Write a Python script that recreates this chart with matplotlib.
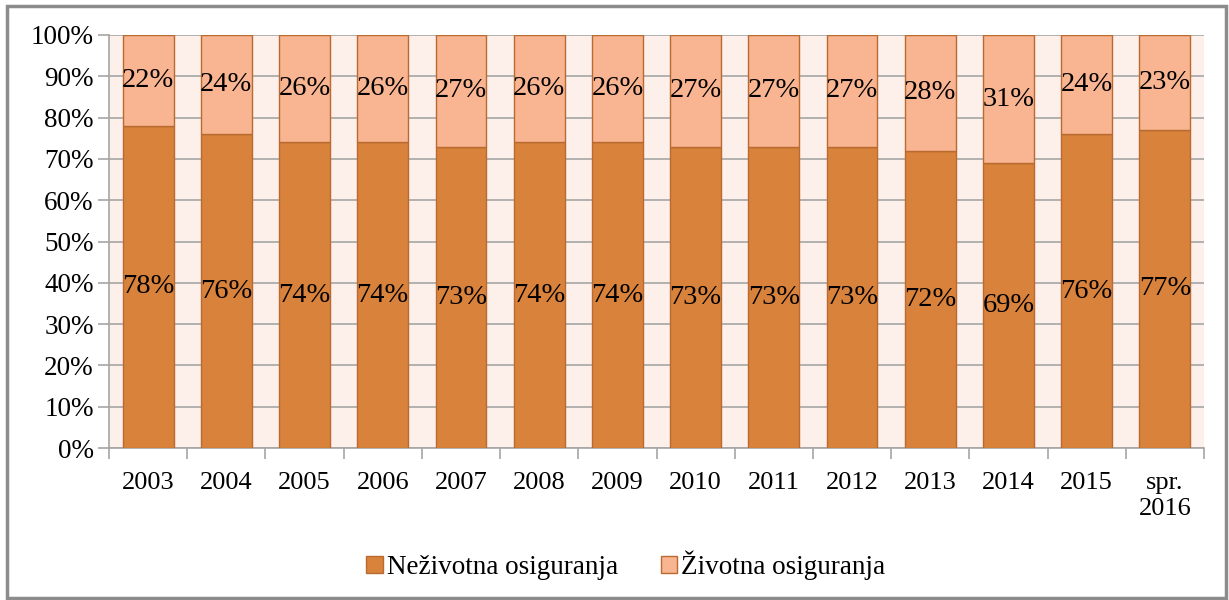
import matplotlib.pyplot as plt
from matplotlib.patches import Rectangle
import numpy as np

# categories and shares (percent) of non-life and life insurance
years = ['2003', '2004', '2005', '2006', '2007', '2008', '2009', '2010',
         '2011', '2012', '2013', '2014', '2015', 'spr.\n2016']
nezivotna = [78, 76, 74, 74, 73, 74, 74, 73, 73, 73, 72, 69, 76, 77]
zivotna = [22, 24, 26, 26, 27, 26, 26, 27, 27, 27, 28, 31, 24, 23]

plt.rcParams['font.family'] = ['Liberation Serif', 'DejaVu Serif']

dark = '#D9823B'
light = '#F9B591'
edge = '#B86A30'
grid = '#A6A6A6'

fig = plt.figure(figsize=(12.29, 6.0), dpi=100)
ax = fig.add_axes([109 / 1229, 1 - 448 / 600, (1204 - 109) / 1229, (448 - 35) / 600])
ax.set_facecolor('#FDEFEA')

x = np.arange(len(years))
w = 0.65
b1 = ax.bar(x, nezivotna, w, color=dark, edgecolor=edge, linewidth=1,
            label='Neživotna osiguranja', zorder=3)
b2 = ax.bar(x, zivotna, w, bottom=nezivotna, color=light, edgecolor=edge,
            linewidth=1, label='Životna osiguranja', zorder=3)

# value labels in the middle of each segment
for i in range(len(years)):
    ax.text(x[i], nezivotna[i] / 2, f'{nezivotna[i]}%', ha='center', va='center',
            fontsize=20.5, zorder=4)
    ax.text(x[i], nezivotna[i] + zivotna[i] / 2, f'{zivotna[i]}%', ha='center',
            va='center', fontsize=20.5, zorder=4)

ax.set_xlim(-0.5, len(years) - 0.5)
ax.set_ylim(0, 100)
ax.set_yticks(range(0, 101, 10))
ax.set_yticklabels([f'{v}%' for v in range(0, 101, 10)], fontsize=19.5)
ax.yaxis.grid(True, color=grid, linewidth=1.2, zorder=1)
ax.set_axisbelow(True)

# year labels centred, ticks on the category boundaries
ax.set_xticks(x)
ax.set_xticklabels(years, fontsize=19, linespacing=1.25)
ax.tick_params(axis='x', length=0, pad=17)
ax.set_xticks(np.arange(-0.5, len(years)), minor=True)
ax.tick_params(axis='x', which='minor', length=8, color=grid, width=1.2)
ax.tick_params(axis='y', length=8, color=grid, width=1.2, pad=3)

for s in ['top', 'right']:
    ax.spines[s].set_visible(False)
for s in ['left', 'bottom']:
    ax.spines[s].set_color(grid)
    ax.spines[s].set_linewidth(1.2)

leg = fig.legend(handles=[b1, b2], loc='center', bbox_to_anchor=(626 / 1229, 1 - 565 / 600),
                 ncol=2, frameon=False, fontsize=19.5, handlelength=0.6,
                 handleheight=0.6, handletextpad=0.15, columnspacing=1.6)

# outer frame around the whole chart
fig.patches.append(Rectangle((7 / 1229, 2 / 600), 1219 / 1229, 592 / 600,
                             transform=fig.transFigure, fill=False,
                             edgecolor='#8C8C8C', linewidth=2.5))

fig.savefig('out.png', dpi=100)
